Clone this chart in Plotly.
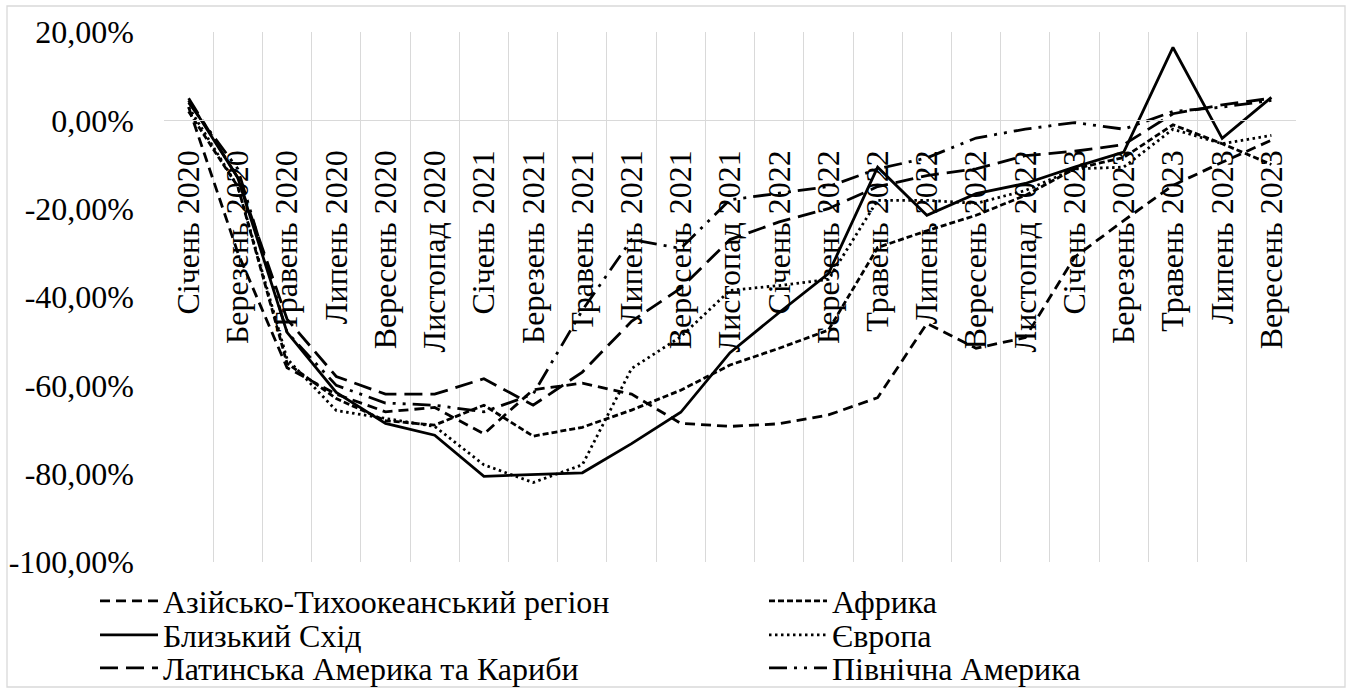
import plotly.graph_objects as go

categories = ["Січень 2020", "Березень 2020", "Травень 2020", "Липень 2020", "Вересень 2020",
              "Листопад 2020", "Січень 2021", "Березень 2021", "Травень 2021", "Липень 2021",
              "Вересень 2021", "Листопад 2021", "Січень 2022", "Березень 2022", "Травень 2022",
              "Липень 2022", "Вересень 2022", "Листопад 2022", "Січень 2023", "Березень 2023",
              "Травень 2023", "Липень 2023", "Вересень 2023"]

asia_pacific = [3, -30, -56, -62, -66, -65, -71, -61, -59.5, -62, -68.6, -69.3, -68.7, -66.7,
                -62.8, -46, -51.6, -49.2, -31, -22.7, -14.7, -9.5, -4.5]
africa = [2, -15, -55, -63, -68, -69, -64.5, -71.5, -69.5, -65.6, -61.1, -55.4, -51.6, -47.5,
          -28.8, -25, -21.5, -17, -11, -8.4, -1, -5.3, -10]
middle_east = [4.5, -13, -48, -61.6, -68.6, -71.3, -80.6, -80.2, -79.8, -73.2, -66.1, -52.6,
               -43.5, -34.7, -10.6, -21.5, -16.6, -14.3, -10.6, -7.2, 16.5, -4.1, 5.2]
europe = [3, -15, -54, -65.7, -67.5, -69.3, -78, -82, -78, -56.2, -49, -38.5, -37.4, -36,
          -18.1, -18.1, -18.8, -15.9, -11, -10.6, -2, -5.3, -3.4]
latin_america = [5, -13, -45, -58, -62, -62, -58.5, -64.5, -57, -45.5, -38, -27, -23, -20,
                 -15, -12.5, -11, -8, -7, -5.5, 1.5, 3.5, 5]
north_america = [4, -11, -48, -60, -64, -64.5, -66, -62, -43, -27, -29, -18, -16.5, -15,
                 -11, -8.5, -4, -2, -0.5, -2, 2, 3, 4.5]

series_names = ["Азійсько-Тихоокеанський регіон", "Африка", "Близький Схід", "Європа",
                "Латинська Америка та Кариби", "Північна Америка"]

y_tick_values = [20, 0, -20, -40, -60, -80, -100]
y_tick_labels = ["20,00%", "0,00%", "-20,00%", "-40,00%", "-60,00%", "-80,00%", "-100,00%"]

series_values = [asia_pacific, africa, middle_east, europe, latin_america, north_america]
dashes = ["10px,6px", "6px,3px", "solid", "2.5px,3.5px", "18px,8px",
          "18px,7px,3px,7px,3px,7px"]

FONT = "Liberation Serif, Times New Roman, serif"

W, H = 1352, 688
L, R, T, B = 164, 56, 32, 126
pw, ph = W - L - R, H - T - B

# legend grid: 2 columns x 3 rows (pixel positions of each entry)
legend_cols_px = [95, 764]
legend_rows_px = [601, 635, 668]

fig = go.Figure()
legends = {}
for k, (name, vals, dash) in enumerate(zip(series_names, series_values, dashes)):
    lid = "legend" if k == 0 else f"legend{k + 1}"
    col, row = k % 2, k // 2
    legends[lid] = dict(
        orientation="v", xanchor="left", yanchor="middle",
        x=(legend_cols_px[col] - L) / pw, y=(H - B - legend_rows_px[row]) / ph,
        font=dict(size=32, family=FONT, color="black"), itemwidth=58,
        bgcolor="rgba(0,0,0,0)",
    )
    fig.add_trace(go.Scatter(
        x=categories, y=[v / 100 for v in vals], name=name,
        mode="lines", legend=lid,
        line=dict(color="black", width=2.8, dash=dash),
    ))

fig.update_layout(
    width=W, height=H,
    margin=dict(l=L, r=R, t=T, b=B, autoexpand=False),
    paper_bgcolor="white", plot_bgcolor="white",
    font=dict(family=FONT, color="black"),
    showlegend=True,
    xaxis=dict(
        type="category", range=[-0.5, len(categories) - 0.5], automargin=False,
        tickson="boundaries", showgrid=True, gridcolor="#d9d9d9", gridwidth=1.3,
        showline=True, linecolor="#d9d9d9", linewidth=1.3,
        anchor="free", position=(0 - (-100)) / 120,
        ticks="", tickangle=-90, tickfont=dict(size=32, family=FONT, color="black"),
        ticklabelstandoff=16, zeroline=False,
    ),
    yaxis=dict(
        range=[-1.0, 0.2], showgrid=False, zeroline=False, showline=False, automargin=False,
        tickvals=[v / 100 for v in y_tick_values], ticktext=y_tick_labels,
        ticks="", tickfont=dict(size=32, family=FONT, color="black"), ticklabelstandoff=29,
    ),
    shapes=[dict(
        type="rect", xref="paper", yref="paper",
        x0=(7 - L) / pw, x1=(1345 - L) / pw,
        y0=(H - B - 687) / ph, y1=(H - B - 6) / ph,
        line=dict(color="#d9d9d9", width=1.3), fillcolor="rgba(0,0,0,0)", layer="below",
    )],
)
fig.update_layout(**legends)

fig.write_html("out.html", config={"displayModeBar": False},
               post_script="document.body.style.margin='0';")
